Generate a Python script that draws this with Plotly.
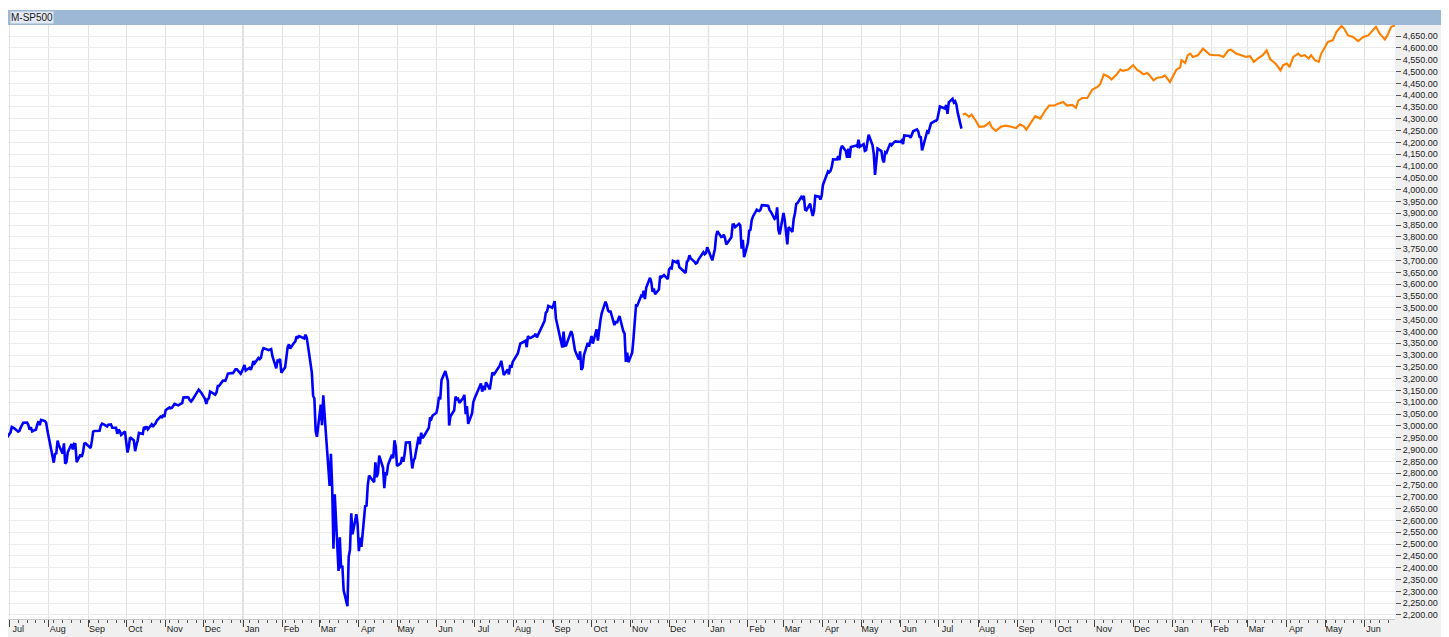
import plotly.graph_objects as go

# ---------------- data ----------------
hist_dates = [
"2019-06-28","2019-07-01","2019-07-02","2019-07-03","2019-07-05","2019-07-08","2019-07-09","2019-07-10","2019-07-11","2019-07-12",
"2019-07-15","2019-07-16","2019-07-17","2019-07-18","2019-07-19","2019-07-22","2019-07-23","2019-07-24","2019-07-25","2019-07-26",
"2019-07-29","2019-07-30","2019-07-31","2019-08-01","2019-08-02","2019-08-05","2019-08-06","2019-08-07","2019-08-08","2019-08-09",
"2019-08-12","2019-08-13","2019-08-14","2019-08-15","2019-08-16","2019-08-19","2019-08-20","2019-08-21","2019-08-22","2019-08-23",
"2019-08-26","2019-08-27","2019-08-28","2019-08-29","2019-08-30","2019-09-03","2019-09-04","2019-09-05","2019-09-06","2019-09-09",
"2019-09-10","2019-09-11","2019-09-12","2019-09-13","2019-09-16","2019-09-17","2019-09-18","2019-09-19","2019-09-20","2019-09-23",
"2019-09-24","2019-09-25","2019-09-26","2019-09-27","2019-09-30","2019-10-01","2019-10-02","2019-10-03","2019-10-04","2019-10-07",
"2019-10-08","2019-10-09","2019-10-10","2019-10-11","2019-10-14","2019-10-15","2019-10-16","2019-10-17","2019-10-18","2019-10-21",
"2019-10-22","2019-10-23","2019-10-24","2019-10-25","2019-10-28","2019-10-29","2019-10-30","2019-10-31","2019-11-01","2019-11-04",
"2019-11-05","2019-11-06","2019-11-07","2019-11-08","2019-11-11","2019-11-12","2019-11-13","2019-11-14","2019-11-15","2019-11-18",
"2019-11-19","2019-11-20","2019-11-21","2019-11-22","2019-11-25","2019-11-26","2019-11-27","2019-11-29","2019-12-02","2019-12-03",
"2019-12-04","2019-12-05","2019-12-06","2019-12-09","2019-12-10","2019-12-11","2019-12-12","2019-12-13","2019-12-16","2019-12-17",
"2019-12-18","2019-12-19","2019-12-20","2019-12-23","2019-12-24","2019-12-26","2019-12-27","2019-12-30","2019-12-31",
"2020-01-02","2020-01-03","2020-01-06","2020-01-07","2020-01-08","2020-01-09","2020-01-10","2020-01-13","2020-01-14","2020-01-15",
"2020-01-16","2020-01-17","2020-01-21","2020-01-22","2020-01-23","2020-01-24","2020-01-27","2020-01-28","2020-01-29","2020-01-30",
"2020-01-31","2020-02-03","2020-02-04","2020-02-05","2020-02-06","2020-02-07","2020-02-10","2020-02-11","2020-02-12","2020-02-13",
"2020-02-14","2020-02-18","2020-02-19","2020-02-20","2020-02-21","2020-02-24","2020-02-25","2020-02-26","2020-02-27","2020-02-28",
"2020-03-02","2020-03-03","2020-03-04","2020-03-05","2020-03-06","2020-03-09","2020-03-10","2020-03-11","2020-03-12","2020-03-13",
"2020-03-16","2020-03-17","2020-03-18","2020-03-19","2020-03-20","2020-03-23","2020-03-24","2020-03-25","2020-03-26","2020-03-27",
"2020-03-30","2020-03-31","2020-04-01","2020-04-02","2020-04-03","2020-04-06","2020-04-07","2020-04-08","2020-04-09","2020-04-13",
"2020-04-14","2020-04-15","2020-04-16","2020-04-17","2020-04-20","2020-04-21","2020-04-22","2020-04-23","2020-04-24","2020-04-27",
"2020-04-28","2020-04-29","2020-04-30","2020-05-01","2020-05-04","2020-05-05","2020-05-06","2020-05-07","2020-05-08","2020-05-11",
"2020-05-12","2020-05-13","2020-05-14","2020-05-15","2020-05-18","2020-05-19","2020-05-20","2020-05-21","2020-05-22","2020-05-26",
"2020-05-27","2020-05-28","2020-05-29","2020-06-01","2020-06-02","2020-06-03","2020-06-04","2020-06-05","2020-06-08","2020-06-09",
"2020-06-10","2020-06-11","2020-06-12","2020-06-15","2020-06-16","2020-06-17","2020-06-18","2020-06-19","2020-06-22","2020-06-23",
"2020-06-24","2020-06-25","2020-06-26","2020-06-29","2020-06-30","2020-07-01","2020-07-02","2020-07-06","2020-07-07","2020-07-08",
"2020-07-09","2020-07-10","2020-07-13","2020-07-14","2020-07-15","2020-07-16","2020-07-17","2020-07-20","2020-07-21","2020-07-22",
"2020-07-23","2020-07-24","2020-07-27","2020-07-28","2020-07-29","2020-07-30","2020-07-31","2020-08-03","2020-08-04","2020-08-05",
"2020-08-06","2020-08-07","2020-08-10","2020-08-11","2020-08-12","2020-08-13","2020-08-14","2020-08-17","2020-08-18","2020-08-19",
"2020-08-20","2020-08-21","2020-08-24","2020-08-25","2020-08-26","2020-08-27","2020-08-28","2020-08-31","2020-09-01","2020-09-02",
"2020-09-03","2020-09-04","2020-09-08","2020-09-09","2020-09-10","2020-09-11","2020-09-14","2020-09-15","2020-09-16","2020-09-17",
"2020-09-18","2020-09-21","2020-09-22","2020-09-23","2020-09-24","2020-09-25","2020-09-28","2020-09-29","2020-09-30","2020-10-01",
"2020-10-02","2020-10-05","2020-10-06","2020-10-07","2020-10-08","2020-10-09","2020-10-12","2020-10-13","2020-10-14","2020-10-15",
"2020-10-16","2020-10-19","2020-10-20","2020-10-21","2020-10-22","2020-10-23","2020-10-26","2020-10-27","2020-10-28","2020-10-29",
"2020-10-30","2020-11-02","2020-11-03","2020-11-04","2020-11-05","2020-11-06","2020-11-09","2020-11-10","2020-11-11","2020-11-12",
"2020-11-13","2020-11-16","2020-11-17","2020-11-18","2020-11-19","2020-11-20","2020-11-23","2020-11-24","2020-11-25","2020-11-27",
"2020-11-30","2020-12-01","2020-12-02","2020-12-03","2020-12-04","2020-12-07","2020-12-08","2020-12-09","2020-12-10","2020-12-11",
"2020-12-14","2020-12-15","2020-12-16","2020-12-17","2020-12-18","2020-12-21","2020-12-22","2020-12-23","2020-12-24","2020-12-28",
"2020-12-29","2020-12-30","2020-12-31",
"2021-01-04","2021-01-05","2021-01-06","2021-01-07","2021-01-08","2021-01-11","2021-01-12","2021-01-13","2021-01-14","2021-01-15",
"2021-01-19","2021-01-20","2021-01-21","2021-01-22","2021-01-25","2021-01-26","2021-01-27","2021-01-28","2021-01-29","2021-02-01",
"2021-02-02","2021-02-03","2021-02-04","2021-02-05","2021-02-08","2021-02-09","2021-02-10","2021-02-11","2021-02-12","2021-02-16",
"2021-02-17","2021-02-18","2021-02-19","2021-02-22","2021-02-23","2021-02-24","2021-02-25","2021-02-26","2021-03-01","2021-03-02",
"2021-03-03","2021-03-04","2021-03-05","2021-03-08","2021-03-09","2021-03-10","2021-03-11","2021-03-12","2021-03-15","2021-03-16",
"2021-03-17","2021-03-18","2021-03-19","2021-03-22","2021-03-23","2021-03-24","2021-03-25","2021-03-26","2021-03-29","2021-03-30",
"2021-03-31","2021-04-01","2021-04-05","2021-04-06","2021-04-07","2021-04-08","2021-04-09","2021-04-12","2021-04-13","2021-04-14",
"2021-04-15","2021-04-16","2021-04-19","2021-04-20","2021-04-21","2021-04-22","2021-04-23","2021-04-26","2021-04-27","2021-04-28",
"2021-04-29","2021-04-30","2021-05-03","2021-05-04","2021-05-05","2021-05-06","2021-05-07","2021-05-10","2021-05-11","2021-05-12",
"2021-05-13","2021-05-14","2021-05-17","2021-05-18","2021-05-19","2021-05-20","2021-05-21","2021-05-24","2021-05-25","2021-05-26",
"2021-05-27","2021-05-28","2021-06-01","2021-06-02","2021-06-03","2021-06-04","2021-06-07","2021-06-08","2021-06-09","2021-06-10",
"2021-06-11","2021-06-14","2021-06-15","2021-06-16","2021-06-17","2021-06-18","2021-06-21","2021-06-22","2021-06-23","2021-06-24",
"2021-06-25","2021-06-28","2021-06-29","2021-06-30","2021-07-01","2021-07-02","2021-07-06","2021-07-07","2021-07-08","2021-07-09",
"2021-07-12","2021-07-13","2021-07-14","2021-07-15","2021-07-16","2021-07-19",
]
hist_values = [
2941.8,2964.3,2973.0,2995.8,2990.4,2976.0,2979.6,2993.1,3004.0,3013.8,
3014.3,3004.0,2984.4,2995.1,2976.6,2985.0,3005.5,3019.6,3003.7,3025.9,
3021.0,3013.2,2980.4,2953.6,2932.1,2844.7,2881.8,2884.0,2938.1,2918.7,
2882.7,2926.3,2840.6,2847.6,2888.7,2923.7,2900.5,2924.4,2923.0,2847.1,
2878.4,2869.2,2887.9,2924.6,2926.5,2906.3,2937.8,2976.0,2978.7,2978.4,
2979.4,3000.9,3009.6,3007.4,2998.0,3005.7,3006.7,3006.8,2992.1,2991.8,
2966.6,2984.9,2977.6,2961.8,2976.7,2940.3,2887.6,2910.6,2952.0,2938.8,
2893.1,2919.4,2938.1,2970.3,2966.2,2995.7,2989.7,2998.0,2986.2,3006.7,
2996.0,3004.5,3010.3,3022.6,3039.4,3036.9,3046.8,3037.6,3066.9,3078.3,
3074.6,3076.8,3085.2,3093.1,3087.0,3091.8,3094.0,3096.6,3120.5,3122.0,
3120.2,3108.5,3103.5,3110.3,3133.6,3140.5,3153.6,3141.0,3113.9,3093.2,
3112.8,3117.4,3145.9,3136.0,3132.5,3141.6,3168.6,3168.8,3191.5,3192.5,
3191.1,3205.4,3221.2,3224.0,3223.4,3239.9,3240.0,3221.3,3230.8,
3257.9,3234.9,3246.3,3237.2,3253.1,3274.7,3265.4,3288.1,3283.2,3289.3,
3316.8,3329.6,3320.8,3321.8,3325.5,3295.5,3243.6,3276.2,3273.4,3283.7,
3225.5,3248.9,3297.6,3334.7,3345.8,3327.7,3352.1,3357.8,3379.5,3373.9,
3380.2,3370.3,3386.2,3373.2,3337.8,3225.9,3128.2,3116.4,2978.8,2954.2,
3090.2,3003.4,3130.1,3023.9,2972.4,2746.6,2882.2,2741.4,2480.6,2711.0,
2386.1,2529.2,2398.1,2409.4,2304.9,2237.4,2447.3,2475.6,2630.1,2541.5,
2626.7,2584.6,2470.5,2526.9,2488.7,2663.7,2659.4,2750.0,2789.8,2761.6,
2846.1,2783.4,2799.6,2874.6,2823.2,2736.6,2799.3,2797.8,2836.7,2878.5,
2863.4,2939.5,2912.4,2830.7,2842.7,2868.4,2848.4,2881.2,2929.8,2930.3,
2870.1,2820.0,2852.5,2863.7,2953.9,2922.9,2971.6,2948.5,2955.5,2991.8,
3036.1,3029.7,3044.3,3055.7,3080.8,3122.9,3112.4,3193.9,3232.4,3207.2,
3190.1,3002.1,3041.3,3066.6,3124.7,3113.5,3115.3,3097.7,3117.9,3131.3,
3050.3,3083.8,3009.1,3053.2,3100.3,3115.9,3130.0,3179.7,3145.3,3169.9,
3152.1,3185.0,3155.2,3197.5,3226.6,3215.6,3224.7,3251.8,3257.3,3276.0,
3235.7,3215.6,3239.4,3218.4,3258.4,3246.2,3271.1,3294.6,3306.5,3327.8,
3349.2,3351.3,3360.5,3333.7,3380.4,3373.4,3372.9,3382.0,3389.8,3374.9,
3385.5,3397.2,3431.3,3443.6,3478.7,3484.6,3508.0,3500.3,3512.0,3528.0,
3455.1,3427.0,3331.8,3399.0,3339.2,3341.0,3383.5,3401.2,3385.5,3357.0,
3319.5,3281.1,3315.6,3236.9,3246.6,3298.5,3351.6,3335.5,3363.0,3380.8,
3348.4,3408.6,3361.0,3419.4,3446.8,3477.1,3526.0,3511.9,3488.7,3483.3,
3483.8,3426.9,3443.1,3435.6,3453.5,3465.4,3401.0,3390.7,3271.0,3310.1,
3270.0,3310.2,3369.2,3443.4,3510.5,3509.4,3550.5,3545.5,3572.7,3537.0,
3585.2,3626.9,3609.5,3567.8,3581.9,3557.5,3577.6,3635.4,3629.7,3638.4,
3621.6,3662.5,3669.0,3666.7,3699.1,3692.0,3702.3,3672.8,3668.1,3663.5,
3647.5,3694.6,3701.2,3722.5,3709.4,3694.9,3687.3,3690.0,3703.1,3735.4,
3727.0,3732.0,3756.1,
3700.7,3726.9,3748.1,3803.8,3824.7,3799.6,3801.2,3809.8,3795.5,3768.3,
3798.9,3851.9,3853.1,3841.5,3855.4,3849.6,3750.8,3787.4,3714.2,3773.9,
3826.3,3830.2,3871.7,3886.8,3915.6,3911.2,3909.9,3916.4,3934.8,3932.6,
3931.3,3914.0,3906.7,3876.5,3881.4,3925.4,3829.3,3811.2,3901.8,3870.3,
3819.7,3768.5,3841.9,3821.4,3875.4,3898.8,3939.3,3943.3,3968.9,3962.7,
3974.1,3915.5,3913.1,3940.6,3910.5,3889.1,3909.5,3974.5,3971.1,3958.6,
3972.9,4019.9,4077.9,4073.9,4080.0,4097.2,4128.8,4128.0,4141.6,4124.7,
4170.4,4185.5,4163.3,4134.9,4173.4,4135.0,4180.2,4187.6,4186.7,4183.2,
4211.5,4181.2,4192.7,4164.7,4167.6,4201.6,4232.6,4188.4,4152.1,4063.0,
4112.5,4173.9,4163.3,4127.8,4115.7,4159.1,4155.9,4197.1,4188.1,4196.0,
4200.9,4204.1,4202.0,4208.1,4192.9,4229.9,4226.5,4227.3,4219.6,4239.2,
4247.4,4255.2,4246.6,4223.7,4221.9,4166.5,4224.8,4246.4,4241.8,4266.5,
4280.7,4290.6,4291.8,4297.5,4319.9,4352.3,4343.5,4358.1,4320.8,4369.6,
4384.6,4369.2,4374.3,4360.0,4327.2,4258.5,
]

proj_dates = [
"2021-07-20","2021-07-22","2021-07-25","2021-07-27","2021-07-30","2021-08-02","2021-08-06","2021-08-10","2021-08-12","2021-08-15",
"2021-08-19","2021-08-23","2021-08-27","2021-08-31","2021-09-03","2021-09-06","2021-09-08","2021-09-11","2021-09-15","2021-09-19",
"2021-09-23","2021-09-26","2021-09-30","2021-10-03","2021-10-07","2021-10-10","2021-10-14","2021-10-17","2021-10-19","2021-10-22",
"2021-10-26","2021-10-30","2021-11-03","2021-11-05","2021-11-08","2021-11-12","2021-11-14","2021-11-18","2021-11-21","2021-11-23",
"2021-11-27","2021-12-01","2021-12-04","2021-12-07","2021-12-09","2021-12-12","2021-12-14","2021-12-17","2021-12-20","2021-12-24",
"2021-12-26","2021-12-30","2022-01-02","2022-01-04","2022-01-07","2022-01-08","2022-01-11","2022-01-13","2022-01-15","2022-01-17",
"2022-01-21","2022-01-25","2022-01-28","2022-01-30","2022-02-03","2022-02-07","2022-02-10","2022-02-14","2022-02-16","2022-02-20",
"2022-02-24","2022-02-28","2022-03-03","2022-03-06","2022-03-09","2022-03-13","2022-03-16","2022-03-19","2022-03-23","2022-03-27",
"2022-03-29","2022-04-01","2022-04-03","2022-04-06","2022-04-10","2022-04-12","2022-04-15","2022-04-18","2022-04-20","2022-04-23",
"2022-04-26","2022-04-28","2022-05-01","2022-05-03","2022-05-07","2022-05-10","2022-05-14","2022-05-16","2022-05-19","2022-05-23",
"2022-05-27","2022-05-31","2022-06-04","2022-06-08","2022-06-10","2022-06-13","2022-06-17","2022-06-19","2022-06-22","2022-06-25",
]
proj_values = [
4318,4322,4308,4318,4294,4266,4268,4285,4263,4249,
4266,4271,4266,4261,4277,4268,4254,4280,4311,4301,
4336,4356,4356,4364,4371,4356,4359,4347,4378,4388,
4388,4424,4435,4446,4488,4477,4466,4487,4508,4503,
4508,4527,4508,4498,4488,4494,4484,4463,4474,4477,
4484,4456,4484,4508,4517,4548,4536,4569,4576,4562,
4569,4597,4583,4572,4569,4569,4562,4590,4593,4576,
4569,4562,4565,4541,4555,4569,4590,4551,4534,4505,
4527,4534,4519,4562,4576,4565,4569,4555,4569,4548,
4541,4576,4604,4625,4632,4668,4693,4682,4653,4646,
4629,4646,4653,4675,4689,4660,4636,4653,4689,4696,
]

month_starts = [
"2019-07-01","2019-08-01","2019-09-01","2019-10-01","2019-11-01","2019-12-01",
"2020-01-01","2020-02-01","2020-03-01","2020-04-01","2020-05-01","2020-06-01",
"2020-07-01","2020-08-01","2020-09-01","2020-10-01","2020-11-01","2020-12-01",
"2021-01-01","2021-02-01","2021-03-01","2021-04-01","2021-05-01","2021-06-01",
"2021-07-01","2021-08-01","2021-09-01","2021-10-01","2021-11-01","2021-12-01",
"2022-01-01","2022-02-01","2022-03-01","2022-04-01","2022-05-01","2022-06-01",
]
month_labels = [
"Jul","Aug","Sep","Oct","Nov","Dec",
"Jan<br>2020","Feb","Mar","Apr","May","Jun",
"Jul","Aug","Sep","Oct","Nov","Dec",
"Jan<br>2021","Feb","Mar","Apr","May","Jun",
"Jul","Aug","Sep","Oct","Nov","Dec",
"Jan<br>2022","Feb","Mar","Apr","May","Jun",
]
year_starts = ["2020-01-01", "2021-01-01", "2022-01-01"]
y_ticks = list(range(2200, 4651, 50))
series_title = "M-SP500"

# ---------------- figure ----------------
# the page body keeps its default 8 px margin, so the figure is 8 px smaller
W, H = 1441, 629
ML, MR, MT, MB = 0, 54, 17, 18
plot_w = W - ML - MR
plot_h = H - MT - MB
FONT = "Liberation Sans, Arial, sans-serif"

fig = go.Figure()
fig.add_trace(go.Scatter(x=hist_dates, y=hist_values, mode="lines",
                         line=dict(color="#0000ff", width=2.6), hoverinfo="skip"))
fig.add_trace(go.Scatter(x=proj_dates, y=proj_values, mode="lines",
                         line=dict(color="#ff8000", width=2.1), hoverinfo="skip"))

shapes = []
band_gray = "#f0f0f0"
right_edge = (W - ML) / plot_w
bottom_edge = -MB / plot_h
# right axis band
shapes.append(dict(type="rect", xref="paper", yref="paper", x0=1, x1=right_edge,
                   y0=bottom_edge, y1=1, fillcolor=band_gray, line_width=0, layer="below"))
# bottom axis band
shapes.append(dict(type="rect", xref="paper", yref="paper", x0=0, x1=1,
                   y0=bottom_edge, y1=0, fillcolor=band_gray, line_width=0, layer="below"))
# header band
shapes.append(dict(type="rect", xref="paper", yref="paper", x0=0, x1=right_edge,
                   y0=1, y1=1 + 15 / plot_h, fillcolor="#9db8d5", line_width=0, layer="below"))
# year separator lines
for ys in year_starts:
    shapes.append(dict(type="line", xref="x", yref="paper", x0=ys, x1=ys,
                       y0=bottom_edge * 0.45, y1=1, line=dict(color="#b4b4b4", width=1.2), layer="below"))

fig.update_layout(
    width=W, height=H,
    margin=dict(l=ML, r=MR, t=MT, b=MB, autoexpand=False),
    paper_bgcolor="white", plot_bgcolor="white",
    showlegend=False,
    font=dict(family=FONT, size=9, color="#222"),
    shapes=shapes,
    annotations=[dict(text=series_title, xref="paper", yref="paper",
                      x=1.5 / plot_w, y=1 + 7.5 / plot_h, xanchor="left", yanchor="middle",
                      showarrow=False, bgcolor="#e2e9f2", borderpad=0,
                      font=dict(family=FONT, size=10, color="#1a1a1a"))],
    xaxis=dict(
        type="date", range=["2019-06-30", "2022-06-25"],
        tickmode="array", tickvals=month_starts, ticktext=month_labels,
        ticks="outside", ticklen=7, tickwidth=1, tickcolor="#444",
        ticklabelshift=9, ticklabelstandoff=-6,
        showgrid=True, gridcolor="#e2e2e2", gridwidth=1,
        showline=True, linecolor="#c8c8c8", linewidth=1,
        zeroline=False, automargin=False, fixedrange=True,
        tickfont=dict(family=FONT, size=9, color="#222"),
        minor=dict(tickmode="linear", tick0="2019-07-01", dtick=7 * 86400000,
                   ticks="outside", ticklen=3, tickcolor="#555", showgrid=False),
    ),
    yaxis=dict(
        side="right", range=[2183, 4697],
        tickmode="array", tickvals=y_ticks, tickformat=",.2f",
        ticks="outside", ticklen=5, tickcolor="#555", tickwidth=1,
        showgrid=True, gridcolor="#ececec", gridwidth=1,
        zeroline=False, showline=False, automargin=False, fixedrange=True,
        tickfont=dict(family=FONT, size=9, color="#222"),
    ),
)

fig.write_html("out.html", config={"displayModeBar": False})
